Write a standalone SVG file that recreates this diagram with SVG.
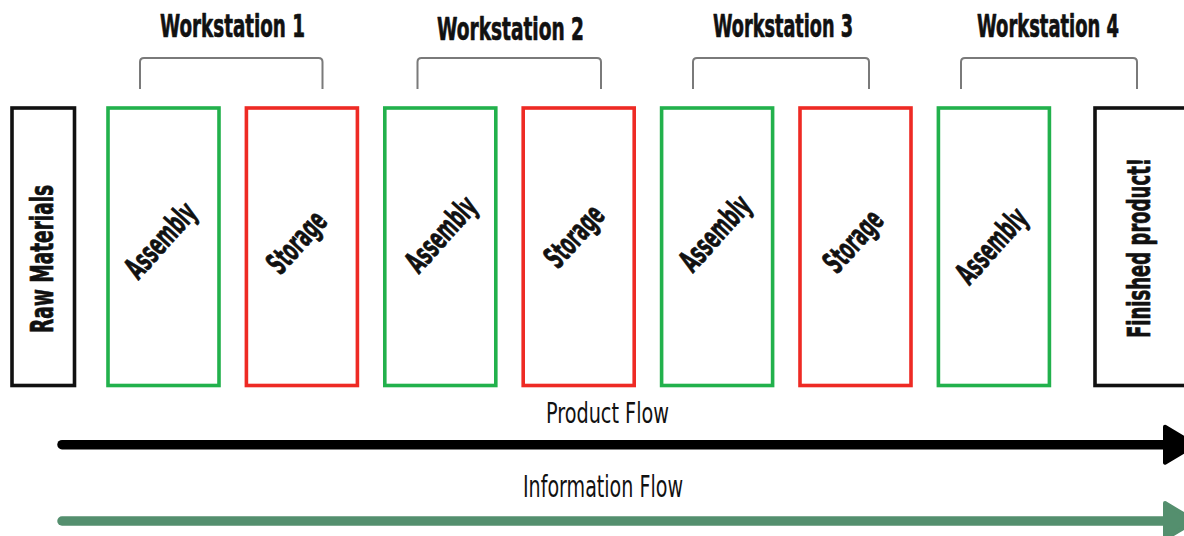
<svg xmlns="http://www.w3.org/2000/svg" width="1184" height="536" viewBox="0 0 1184 536">
  <style>
    .box { fill: #ffffff; stroke-width: 3.6; }
    .edge { stroke: #111111; }
    .asm { stroke: #22b14c; }
    .sto { stroke: #ee2a24; }
    .brace { fill: none; stroke: #7a7a7a; stroke-width: 2; stroke-linejoin: round; }
    .bold { font-family: "Liberation Sans Narrow", "DejaVu Sans Condensed", "Liberation Sans", sans-serif; font-stretch: condensed; font-weight: bold; fill: #111111; stroke: #111111; stroke-width: 0.7; stroke-linejoin: round; }
    .thin { font-family: "Liberation Sans Narrow", "DejaVu Sans Condensed", "Liberation Sans", sans-serif; font-stretch: condensed; font-weight: normal; fill: #111111; }
    .head { font-size: 32px; text-anchor: middle; }
    .step { font-size: 31px; text-anchor: middle; }
    .flow { stroke-width: 9.5; stroke-linecap: round; fill: none; }
  </style>
  <defs>
    <marker id="headBlack" viewBox="0 0 40 40" markerUnits="userSpaceOnUse" markerWidth="40" markerHeight="40" refX="2" refY="20" orient="auto" overflow="visible">
      <path d="M2,2 L32,20 L2,38 Z" fill="#000000" stroke="#000000" stroke-width="4" stroke-linejoin="round"/>
    </marker>
    <marker id="headGreen" viewBox="0 0 40 40" markerUnits="userSpaceOnUse" markerWidth="40" markerHeight="40" refX="2" refY="20" orient="auto" overflow="visible">
      <path d="M2,2 L32,20 L2,38 Z" fill="#548f6e" stroke="#548f6e" stroke-width="4" stroke-linejoin="round"/>
    </marker>
  </defs>

  <rect width="1184" height="536" fill="#ffffff"/>

  <!-- workstation headings with braces -->
  <g id="ws1">
    <text class="bold head" x="232.5" y="37" textLength="145" lengthAdjust="spacingAndGlyphs">Workstation 1</text>
    <path class="brace" d="M140,89 V62 Q140,58 144,58 H318.5 Q322.5,58 322.5,62 V89"/>
  </g>
  <g id="ws2">
    <text class="bold head" x="510.5" y="40" textLength="147" lengthAdjust="spacingAndGlyphs">Workstation 2</text>
    <path class="brace" d="M417.5,89 V62 Q417.5,58 421.5,58 H597 Q601,58 601,62 V89"/>
  </g>
  <g id="ws3">
    <text class="bold head" x="783" y="36.5" textLength="140" lengthAdjust="spacingAndGlyphs">Workstation 3</text>
    <path class="brace" d="M693,89 V62 Q693,58 697,58 H865 Q869,58 869,62 V89"/>
  </g>
  <g id="ws4">
    <text class="bold head" x="1048" y="37" textLength="142" lengthAdjust="spacingAndGlyphs">Workstation 4</text>
    <path class="brace" d="M961,89 V62 Q961,58 965,58 H1133 Q1137,58 1137,62 V89"/>
  </g>

  <!-- start and end of the line -->
  <g id="raw">
    <rect class="box edge" x="12" y="108" width="62.5" height="277.5"/>
    <text class="bold head" transform="translate(52.5,259) rotate(-90)" x="0" y="0" textLength="148" lengthAdjust="spacingAndGlyphs">Raw Materials</text>
  </g>
  <g id="finished">
    <rect class="box edge" x="1095" y="108" width="92" height="277.5"/>
    <text class="bold head" font-size="29" transform="translate(1150,248) rotate(-90)" x="0" y="0" textLength="180" lengthAdjust="spacingAndGlyphs">Finished product!</text>
  </g>

  <!-- process steps -->
  <g id="assembly1">
    <rect class="box asm" x="108" y="108" width="111" height="277.5"/>
    <text class="bold step" transform="translate(162.5,242) rotate(-48)" x="0" y="8" textLength="90" lengthAdjust="spacingAndGlyphs">Assembly</text>
  </g>
  <g id="storage1">
    <rect class="box sto" x="246.4" y="108" width="111" height="277.5"/>
    <text class="bold step" transform="translate(298.5,244) rotate(-48)" x="0" y="8" textLength="72" lengthAdjust="spacingAndGlyphs">Storage</text>
  </g>
  <g id="assembly2">
    <rect class="box asm" x="384.8" y="108" width="111" height="277.5"/>
    <text class="bold step" transform="translate(443,236) rotate(-48)" x="0" y="8" textLength="90" lengthAdjust="spacingAndGlyphs">Assembly</text>
  </g>
  <g id="storage2">
    <rect class="box sto" x="523.2" y="108" width="111" height="277.5"/>
    <text class="bold step" transform="translate(576,238) rotate(-48)" x="0" y="8" textLength="72" lengthAdjust="spacingAndGlyphs">Storage</text>
  </g>
  <g id="assembly3">
    <rect class="box asm" x="661.6" y="108" width="111" height="277.5"/>
    <text class="bold step" transform="translate(717,235) rotate(-48)" x="0" y="8" textLength="90" lengthAdjust="spacingAndGlyphs">Assembly</text>
  </g>
  <g id="storage3">
    <rect class="box sto" x="800" y="108" width="111" height="277.5"/>
    <text class="bold step" transform="translate(855,243) rotate(-48)" x="0" y="8" textLength="72" lengthAdjust="spacingAndGlyphs">Storage</text>
  </g>
  <g id="assembly4">
    <rect class="box asm" x="938.4" y="108" width="111" height="277.5"/>
    <text class="bold step" transform="translate(993.5,247.5) rotate(-48)" x="0" y="8" textLength="90" lengthAdjust="spacingAndGlyphs">Assembly</text>
  </g>

  <!-- flow arrows -->
  <g id="connectors">
    <text class="thin" x="607.5" y="423" font-size="29" text-anchor="middle" textLength="123" lengthAdjust="spacingAndGlyphs">Product Flow</text>
    <line class="flow" x1="62" y1="444.7" x2="1165" y2="444.7" stroke="#000000" marker-end="url(#headBlack)"/>
    <text class="thin" x="603" y="497" font-size="30" text-anchor="middle" textLength="160" lengthAdjust="spacingAndGlyphs">Information Flow</text>
    <line class="flow" x1="62" y1="521" x2="1165" y2="521" stroke="#548f6e" marker-end="url(#headGreen)"/>
  </g>
</svg>
